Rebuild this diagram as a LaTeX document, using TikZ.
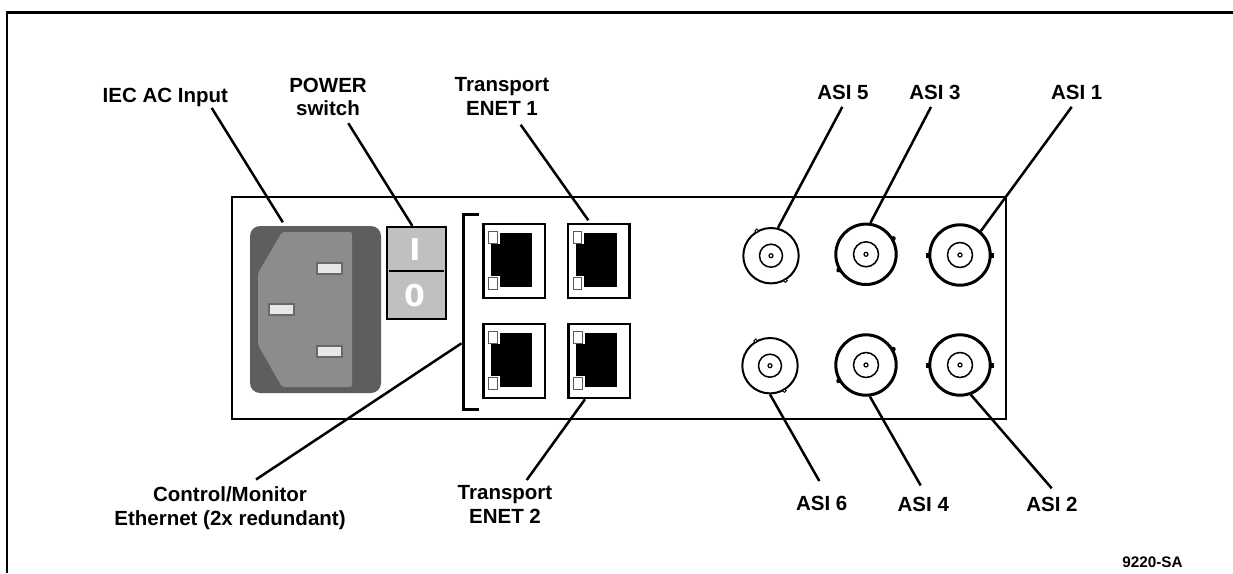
\documentclass[tikz,border=0pt]{standalone}
\usepackage{fontspec}
\setmainfont{Liberation Sans}
\newfontfamily\swfont{DejaVu Sans}
\usetikzlibrary{calc}
\definecolor{inletdark}{RGB}{94,94,94}
\definecolor{inletlight}{RGB}{140,140,140}
\definecolor{pingrey}{RGB}{105,105,105}
\definecolor{pinwhite}{RGB}{232,232,232}
\definecolor{swgrey}{RGB}{192,192,192}
\definecolor{ledgrey}{RGB}{90,90,90}
\begin{document}
\begin{tikzpicture}[x=1pt,y=-1pt,
  lbl/.style={inner sep=0pt,align=center,font=\bfseries\fontsize{20.5}{23.7}\selectfont},
  leader/.style={line width=2.5pt},
  port/.style={draw,line width=2.5pt,minimum width=61.5pt,minimum height=74pt,inner sep=0pt},
  bncs/.style={circle,draw,line width=2pt,minimum size=55.4pt,inner sep=0pt},
  bncl/.style={circle,draw,line width=3pt,minimum size=60.4pt,inner sep=0pt}]
\useasboundingbox (0,0) rectangle (1233,573);
\fill[white] (0,0) rectangle (1233,573);
\draw[line width=2.5pt] (7,573) -- (7,12.5) -- (1233,12.5);
\draw[line width=2.2pt] (232,197) rectangle (1006,419);

\node[fill=inletdark,rounded corners=10pt,minimum width=131pt,minimum height=167pt,inner sep=0pt] (inlet) at (315.5,309.5) {};
\fill[inletlight,rounded corners=2pt] (282,232) -- (352,232) -- (352,387) -- (282,387) -- (258,345) -- (258,273) -- cycle;
\foreach \x/\y in {317/263,269/304,317/346}
{
    \draw[pingrey,fill=pinwhite,line width=1.5pt] (\x,\y) rectangle ++(25,11);
}

\node[draw,fill=swgrey,line width=2.5pt,minimum width=59pt,minimum height=92pt,inner sep=0pt] (pwr) at (416.5,273) {};
\draw[line width=1.8pt] (389,271) -- (444,271);
\node[text=white,inner sep=0pt,font=\swfont\bfseries\fontsize{30}{30}\selectfont] (swon) at (415,250) {I};
\node[text=white,inner sep=0pt,font=\swfont\bfseries\fontsize{30}{30}\selectfont] (swoff) at (414.5,296) {0};

\draw[line width=2.5pt] (479,214.3) -- (463.3,214.3) -- (463.3,409.3) -- (479,409.3);
\coordinate (brk) at (461.5,343.3);

\node[port] (pA) at (514,261) {};
\node[port] (pB) at (598.5,261) {};
\node[port] (pC) at (514,361) {};
\node[port] (pD) at (599,361) {};
\foreach \p in {pA,pB,pC,pD}
{
    \fill ($(\p.north west)+(17.6,10.7)$) rectangle ($(\p.north west)+(50,64.7)$);
    \fill ($(\p.north west)+(9.3,21.3)$) rectangle ($(\p.north west)+(17.6,53.3)$);
    \draw[ledgrey,fill=white,line width=1pt] ($(\p.north west)+(6.6,9)$) rectangle ($(\p.north west)+(15,20.6)$);
    \draw[ledgrey,fill=white,line width=1pt] ($(\p.north west)+(6.6,54.5)$) rectangle ($(\p.north west)+(15,66.5)$);
}

\node[bncs] (asi5) at (771,255.7) {};
\node[bncl] (asi3) at (866,254.3) {};
\node[bncl] (asi1) at (960,255) {};
\node[bncs] (asi6) at (770,365.7) {};
\node[bncl] (asi4) at (866,365) {};
\node[bncl] (asi2) at (960,365) {};
\foreach \b/\r in {asi5/11.5,asi6/11.5,asi3/12.5,asi4/12.5,asi1/12.5,asi2/12.5}
{
    \draw[line width=1.5pt] (\b) circle (\r pt);
    \draw[line width=1.2pt] (\b) circle (2pt);
}
\foreach \b in {asi5,asi6}
{
    \draw[fill=white,line width=1pt] (\b.120) circle (1.8pt);
    \draw[fill=white,line width=1pt] (\b.-60) circle (1.8pt);
}
\foreach \b in {asi3,asi4}
{
    \fill (\b.30) circle (2.3pt);
    \fill (\b.210) circle (2.3pt);
}
\foreach \b in {asi1,asi2}
{
    \fill ($(\b.0)+(-1.5,-2.5)$) rectangle ++(3.5,5);
    \fill ($(\b.180)+(-2,-2.5)$) rectangle ++(3.5,5);
}

\node[lbl,anchor=base] (iec) at (165.3,102) {IEC AC Input};
\node[lbl,anchor=north] (pwrlbl) at (328,77.6) {POWER\\switch};
\node[lbl,anchor=north] (en1) at (502,77.6) {Transport\\ENET 1};
\node[lbl,anchor=base] (a5) at (843,99) {ASI 5};
\node[lbl,anchor=base] (a3) at (935,99) {ASI 3};
\node[lbl,anchor=base] (a1) at (1076.7,99) {ASI 1};
\node[lbl,anchor=north] (ctl) at (230,486.5) {Control/Monitor\\Ethernet (2x redundant)};
\node[lbl,anchor=north] (en2) at (505,485) {Transport\\ENET 2};
\node[lbl,anchor=north] (a6) at (821.7,496) {ASI 6};
\node[lbl,anchor=north] (a4) at (923.3,496.5) {ASI 4};
\node[lbl,anchor=north] (a2) at (1052,496.5) {ASI 2};
\node[inner sep=0pt,anchor=base,font=\bfseries\fontsize{15.3}{15.3}\selectfont] (fig) at (1152.5,567.3) {9220-SA};

\draw[leader] ($(iec.south)+(46.4,1.5)$) -- ($(inlet.north west)+(33,-3.5)$);
\draw[leader] ($(pwrlbl.south)+(20.3,7)$) -- ($(pwr.north west)+(26.5,0)$);
\draw[leader] ($(en1.south)+(18.7,9)$) -- ($(pB.north west)+(21.8,-2.5)$);
\draw[leader] ($(ctl.north)+(26,-7)$) -- (brk);
\draw[leader] ($(en2.north)+(21.7,-5)$) -- ($(pD.south west)+(18,0)$);
\draw[leader] ($(a5.south)+(-0.7,7.5)$) -- (asi5.76);
\draw[leader] ($(a3.south)+(-4,7.5)$) -- (asi3.82);
\draw[leader] ($(a1.south)+(-5,7.5)$) -- (asi1.49);
\draw[leader] (asi6.-90) -- ($(a6.north)+(-2.4,-15)$);
\draw[leader] (asi4.-83) -- ($(a4.north)+(-2.6,-11)$);
\draw[leader] (asi2.-70) -- ($(a2.north)+(-0.3,-8.2)$);
\end{tikzpicture}
\end{document}
